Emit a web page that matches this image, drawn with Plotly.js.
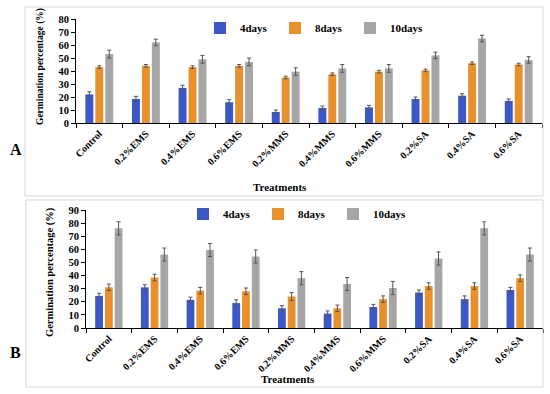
<!DOCTYPE html>
<html><head><meta charset="utf-8">
<script src="https://cdn.plot.ly/plotly-3.0.1.min.js"></script>
<style>html,body{margin:0;padding:0;background:#fff}#c{width:550px;height:394px}</style>
</head><body><div id="c"></div>
<script>
const treatments = ["Control","0.2%EMS","0.4%EMS","0.6%EMS","0.2%MMS","0.4%MMS","0.6%MMS","0.2%SA","0.4%SA","0.6%SA"];
const seriesNames = ["4days","8days","10days"];
// Panel A
const a4 = [22, 18.5, 27, 16, 8.5, 11.5, 12, 18.5, 21, 17];
const a8 = [43, 44, 43, 44, 35, 37.5, 39.5, 40.5, 46, 45];
const a10 = [53, 62, 49, 47, 39.5, 42, 42, 52, 65, 48.5];
const a4err = [2, 2, 2, 2, 1.5, 1.5, 1.5, 1.5, 1.5, 1.5];
const a8err = [1, 1, 1, 1, 1, 1, 1, 1, 1, 1];
const a10err = [3, 2.5, 3, 3, 3, 3, 3, 2.5, 2.5, 2.5];
// Panel B
const b4 = [24.5, 31, 21.5, 19, 15, 11, 16, 27, 22, 29];
const b8 = [31, 38.5, 28.5, 28, 24, 15, 22, 32, 32, 38];
const b10 = [76, 56, 59.5, 54.5, 38, 33.5, 30.5, 53, 76, 56];
const b4err = [2, 2, 2, 2.5, 2, 2, 2, 2, 2.5, 2];
const b8err = [2.5, 2.5, 2.5, 2.5, 3, 2.5, 2.5, 2.5, 2.5, 2.5];
const b10err = [5, 5, 5, 5, 5, 5, 5, 5, 5, 5];
const yTicksA = [0,10,20,30,40,50,60,70,80];
const yTicksB = [0,10,20,30,40,50,60,70,80,90];

const colors = ["#3b58c6", "#e8912c", "#a6a6a6"];
const W = 550, H = 394;
const px = x => x / W, py = y => 1 - y / H;
const font = "Liberation Serif, Times New Roman, serif";

function mk(vals, errs, i, xa, ya, leg) {
  return {type:"bar", x: treatments, y: vals, name: seriesNames[i], xaxis: xa, yaxis: ya, legend: leg,
    marker:{color: colors[i]},
    error_y:{type:"data", array: errs, visible:true, color:"#555", thickness:1, width:2}};
}
const data = [
  mk(a4, a4err, 0, "x", "y", "legend"),
  mk(a8, a8err, 1, "x", "y", "legend"),
  mk(a10, a10err, 2, "x", "y", "legend"),
  mk(b4, b4err, 0, "x2", "y2", "legend2"),
  mk(b8, b8err, 1, "x2", "y2", "legend2"),
  mk(b10, b10err, 2, "x2", "y2", "legend2")
];
const tickFont = {family: font, size: 10, color: "#000", weight: "bold"};
function xax(dom, anchor) {
  return {domain: dom, anchor: anchor, type:"category", showline:true, linecolor:"#000", linewidth:1,
    ticks:"outside", tickson:"boundaries", ticklen:4, tickcolor:"#000", tickangle:-45,
    tickfont: tickFont, showgrid:false, zeroline:false, fixedrange:true};
}
function yax(dom, anchor, range, tv) {
  return {domain: dom, anchor: anchor, range: range, tickvals: tv, showline:true, linecolor:"#000", linewidth:1,
    ticks:"outside", ticklen:4, tickcolor:"#000", tickfont: {family: font, size: 10.5, color: "#000", weight: "bold"},
    showgrid:false, zeroline:false, fixedrange:true};
}
const legFont = {family: font, size: 11, color:"#000", weight:"bold"};
const layout = {
  width: W, height: H, margin:{l:0,r:0,t:0,b:0}, paper_bgcolor:"#fff", plot_bgcolor:"#fff",
  barmode:"group", bargap:0.36, bargroupgap:0.2, showlegend:true,
  xaxis: xax([px(76), px(542)], "y"),
  yaxis: yax([py(123), py(19)], "x", [0,80], yTicksA),
  xaxis2: xax([px(86), px(543)], "y2"),
  yaxis2: yax([py(328), py(210)], "x2", [0,90], yTicksB),
  legend: {orientation:"h", x: px(200), y: py(28), yanchor:"middle", xanchor:"left", bgcolor:"rgba(0,0,0,0)",
    font: legFont, itemwidth:30, entrywidth:30, entrywidthmode:"pixels"},
  legend2: {orientation:"h", x: px(183), y: py(214), yanchor:"middle", xanchor:"left", bgcolor:"rgba(0,0,0,0)",
    font: legFont, itemwidth:30, entrywidth:30, entrywidthmode:"pixels"},
  shapes: [
    {type:"rect", xref:"paper", yref:"paper", x0:px(25), x1:px(543), y0:py(196), y1:py(7), line:{color:"#d9d9d9", width:1}},
    {type:"rect", xref:"paper", yref:"paper", x0:px(26), x1:px(543), y0:py(387), y1:py(200), line:{color:"#d9d9d9", width:1}}
  ],
  annotations: [
    {text:"Germination percentage (%)", xref:"paper", yref:"paper", x:px(40), y:py(67), xanchor:"center", yanchor:"middle",
      textangle:-90, showarrow:false, font:{family:font, size:9.5, color:"#000", weight:"bold"}},
    {text:"Germination percentage (%)", xref:"paper", yref:"paper", x:px(50), y:py(272), xanchor:"center", yanchor:"middle",
      textangle:-90, showarrow:false, font:{family:font, size:10.5, color:"#000", weight:"bold"}},
    {text:"Treatments", xref:"paper", yref:"paper", x:px(280), y:py(187), xanchor:"center", yanchor:"middle", showarrow:false,
      font:{family:font, size:11, color:"#000", weight:"bold"}},
    {text:"Treatments", xref:"paper", yref:"paper", x:px(288), y:py(379), xanchor:"center", yanchor:"middle", showarrow:false,
      font:{family:font, size:11, color:"#000", weight:"bold"}},
    {text:"A", xref:"paper", yref:"paper", x:px(16), y:py(150), xanchor:"center", yanchor:"middle", showarrow:false,
      font:{family:font, size:16, color:"#000", weight:"bold"}},
    {text:"B", xref:"paper", yref:"paper", x:px(15), y:py(352), xanchor:"center", yanchor:"middle", showarrow:false,
      font:{family:font, size:16, color:"#000", weight:"bold"}}
  ]
};
Plotly.newPlot("c", data, layout, {displayModeBar:false, staticPlot:true});
</script></body></html>
